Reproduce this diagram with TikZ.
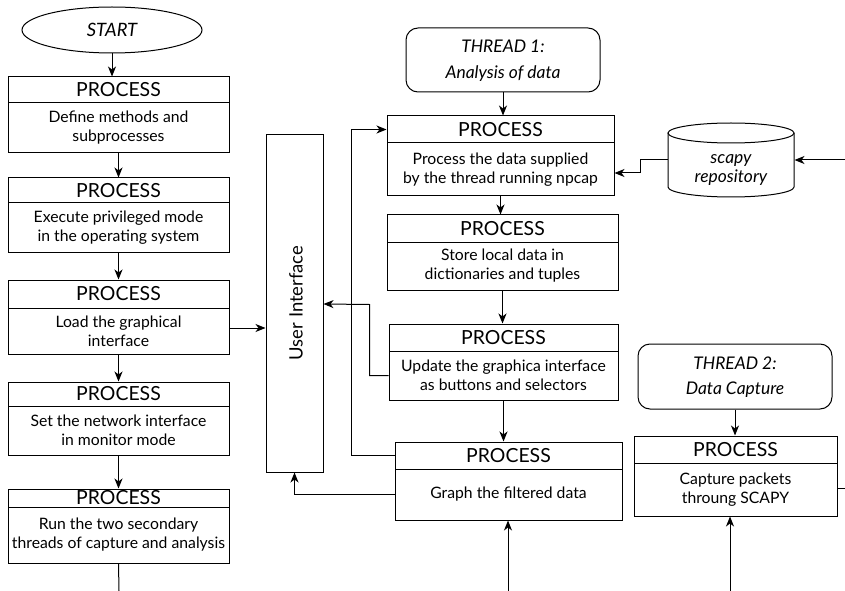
\documentclass[tikz,border=0pt]{standalone}
\usepackage{fontspec}
\setmainfont{Lato}
\usetikzlibrary{arrows.meta,fit,shapes.geometric}
\newcommand\procbox[7]{%
  \node[frame, fit={(#2,#3)(#4,#5)}] (#1) {};
  \draw (#2,#6) -- (#4,#6);
  \node[hdr] (#1h) at ({(#2+#4)/2},{(#3+#6)/2}) {PROCESS};
  \node[body] (#1b) at ({(#2+#4)/2},{(#6+#5)/2}) {#7};
}
\begin{document}
\begin{tikzpicture}[x=1bp,y=-1bp, line width=1bp,
  arr/.style={-{Stealth[length=10bp,width=8bp,inset=3bp]}},
  hdr/.style={font=\fontsize{19.5}{22}\selectfont, inner sep=0pt},
  body/.style={font=\fontsize{15.8}{19}\selectfont, align=center, inner sep=0pt},
  ital/.style={font=\fontsize{17.5}{26}\selectfont\itshape, align=center, inner sep=0pt},
  frame/.style={draw, inner sep=0pt},
]
\useasboundingbox (0,0) rectangle (845,591);

% left column
\node[draw, ellipse, minimum width=180bp, minimum height=46bp, inner sep=0pt,
      font=\fontsize{18.5}{20}\selectfont\itshape] (start) at (112,30) {START};
\procbox{p1}{8}{77}{229}{153}{103}{Define methods and\\subprocesses}
\procbox{p2}{8}{178}{229}{252}{203}{Execute privileged mode\\in the operating system}
\procbox{p3}{8}{280}{229}{354}{308}{Load the graphical\\interface}
\procbox{p4}{8}{382}{229}{455}{406}{Set the network interface\\in monitor mode}
\procbox{p5}{8}{489}{229}{563}{507}{Run the two secondary\\threads of capture and analysis}
\coordinate (e1) at (119,591);

% user interface
\node[frame, fit={(266,135)(323,472)}] (ui) {};
\node[body, rotate=90, font=\fontsize{18.5}{20}\selectfont] (uit) at (296,303) {User Interface};

% thread 1
\node[draw, rounded corners=12bp, inner sep=0pt, fit={(406,28)(600,92)}] (t1) {};
\node[ital] (t1t) at (503,61) {THREAD 1:\\Analysis of data};
\procbox{q1}{387}{116}{614}{196}{143}{Process the data supplied\\by the thread running npcap}
\procbox{q2}{387}{215}{618}{290}{242}{Store local data in\\dictionaries and tuples}
\procbox{q3}{389}{324}{618}{400}{351}{Update the graphica interface\\as buttons and selectors}
\procbox{q4}{395}{442}{622}{520}{469}{Graph the filtered data}
\coordinate (e2) at (508,591);

% repository
\node[inner sep=0pt, fit={(668,123)(794,197)}] (repo) {};
\draw (731,133) ellipse [x radius=63bp, y radius=10bp];
\draw (668,133) -- (668,187) arc[start angle=180, end angle=360, x radius=63bp, y radius=10bp] -- (794,133);
\node[font=\fontsize{17.5}{20}\selectfont\itshape, align=center, inner sep=0pt] (repot) at (731,170) {scapy\\repository};
\coordinate (e3) at (845,160);

% thread 2
\node[draw, rounded corners=12bp, inner sep=0pt, fit={(638,344)(832,409)}] (t2) {};
\node[ital, font=\fontsize{17.5}{25}\selectfont\itshape] (t2t) at (735,377) {THREAD 2:\\Data Capture};
\procbox{c1}{634}{436}{837}{516}{463}{Capture packets\\throung SCAPY}
\coordinate (e4) at (845,488);
\coordinate (e5) at (730,591);

% connectors left column
\draw[arr] (start.south) -- (start.south |- p1.north);
\draw[arr] (p1.south) -- (p2.north);
\draw[arr] (p2.south) -- (p3.north);
\draw[arr] (p3.south) -- (p4.north);
\draw[arr] (p4.south) -- (p5.north);
\draw (p5.south) -- (e1);
\draw[arr] (p3.east |- 0,328) -- (ui.west |- 0,328);

% thread 1 connectors
\draw[arr] (t1.south) -- (t1.south |- q1.north);
\draw[arr] (q1.south) -- (q1.south |- q2.north);
\draw[arr] (q2.south) -- (q2.south |- q3.north);
\draw[arr] (q3.south) -- (q3.south |- q4.north);
\draw[arr] (q4.west |- q4h) -- ++(-43,0) |- (q1.west |- q1h);
\draw[arr] (q3.west |- q3b) -- ++(-19,0) -- ++(0,-71) -- (ui.east |- 0,304);
\draw[arr] (q4.west |- q4b) -| (ui.south);
\draw[arr] (e2) -- (e2 |- q4.south);

% repository connectors
\draw[arr] (e3) -- (repo.east |- e3);
\draw[arr] (repo.west |- 0,160) -- ++(-27,0) -- ++(0,13) -- (q1.east |- 0,173);

% thread 2 connectors
\draw[arr] (t2.south) -- (t2.south |- c1.north);
\draw (c1.east |- 0,488) -- (e4);
\draw[arr] (e5) -- (e5 |- c1.south);
\end{tikzpicture}
\end{document}
